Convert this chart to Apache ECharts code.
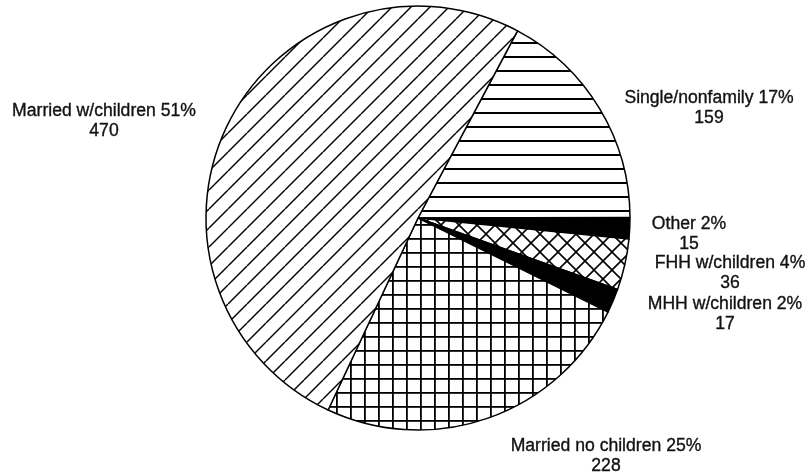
<!DOCTYPE html>
<html>
<head>
<meta charset="utf-8">
<title>Household types</title>
<script src="https://cdn.jsdelivr.net/npm/echarts@6/dist/echarts.min.js"></script>
<style>
  html, body { margin: 0; padding: 0; background: #fff; }
  #chart { width: 811px; height: 475px; }
</style>
</head>
<body>
<div id="chart"></div>
<script>
// Household categories, listed clockwise from the top-right edge of the pie
const categories = [
  'Single/nonfamily',
  'Other',
  'FHH w/children',
  'MHH w/children',
  'Married no children',
  'Married w/children'
];
const counts = [159, 15, 36, 17, 228, 470];

// Label anchor points (centre of each two-line label), in the same order
const labelAnchors = [
  [709, 108],
  [689, 234],
  [730, 273],
  [725, 314],
  [606, 456],
  [104, 121]
];

// --- hatch fills -----------------------------------------------------------
function makeTile(size, draw) {
  const c = document.createElement('canvas');
  c.width = size;
  c.height = size;
  const g = c.getContext('2d');
  g.fillStyle = '#fff';
  g.fillRect(0, 0, size, size);
  g.strokeStyle = '#000';
  g.fillStyle = '#000';
  draw(g, size);
  return c;
}

function forwardDiagonal(g, s) {
  for (const k of [-1, 0, 1]) {
    g.beginPath();
    g.moveTo(k * s, s);
    g.lineTo(k * s + s, 0);
    g.stroke();
  }
}
function backDiagonal(g, s) {
  for (const k of [-1, 0, 1]) {
    g.beginPath();
    g.moveTo(k * s, 0);
    g.lineTo(k * s + s, s);
    g.stroke();
  }
}

const slantFill = makeTile(19, (g, s) => { g.lineWidth = 1.4; forwardDiagonal(g, s); });
const stripeFill = makeTile(14, (g, s) => { g.fillRect(0, 0, s, 2); });
const gridFill = makeTile(14, (g, s) => { g.fillRect(0, 0, 1.8, s); g.fillRect(0, 0, s, 1.8); });
const crossFill = makeTile(18, (g, s) => { g.lineWidth = 1.6; forwardDiagonal(g, s); backDiagonal(g, s); });

const fills = [
  { image: stripeFill, repeat: 'repeat' },
  '#000',
  { image: crossFill, repeat: 'repeat' },
  '#000',
  { image: gridFill, repeat: 'repeat' },
  { image: slantFill, repeat: 'repeat' }
];

const total = counts.reduce((a, b) => a + b, 0);

const chart = echarts.init(document.getElementById('chart'), null, { renderer: 'canvas' });

chart.setOption({
  backgroundColor: '#fff',
  animation: false,
  series: [{
    type: 'pie',
    center: [418, 218],
    radius: [0, 212],
    startAngle: 62,
    clockwise: true,
    avoidLabelOverlap: false,
    minAngle: 0,
    itemStyle: {
      borderColor: '#000',
      borderWidth: 1.5
    },
    label: {
      show: true,
      position: 'outside',
      fontFamily: 'Liberation Sans, Arial, Helvetica, sans-serif',
      fontSize: 17.6,
      lineHeight: 20,
      color: '#111',
      textBorderColor: '#111',
      textBorderWidth: 0.35,
      align: 'center',
      formatter: p => p.name + ' ' + Math.round(p.value / total * 100) + '%\n' + p.value
    },
    labelLine: { show: false },
    labelLayout: p => ({
      x: labelAnchors[p.dataIndex][0],
      y: labelAnchors[p.dataIndex][1],
      align: 'center',
      verticalAlign: 'middle'
    }),
    emphasis: { disabled: true },
    data: categories.map((name, i) => ({
      name: name,
      value: counts[i],
      itemStyle: { color: fills[i] }
    }))
  }]
});
</script>
</body>
</html>
